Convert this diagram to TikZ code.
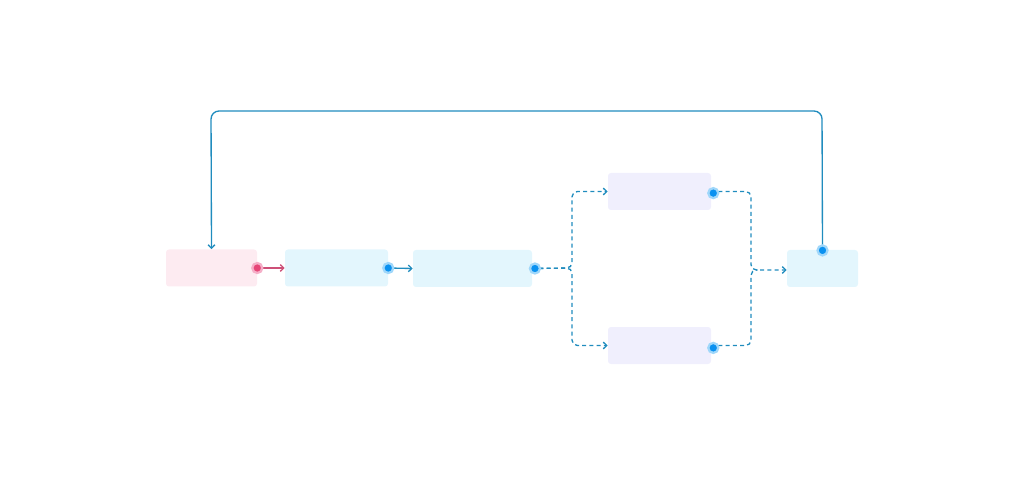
\documentclass[tikz,border=0pt]{standalone}
\usetikzlibrary{arrows.meta,positioning}

\definecolor{pinkfill}{RGB}{253,235,241}
\definecolor{bluefill}{RGB}{227,246,253}
\definecolor{lilacfill}{RGB}{240,239,253}
\definecolor{flowline}{RGB}{32,140,190}
\definecolor{pinkline}{RGB}{205,80,120}
\definecolor{dotblue}{RGB}{10,145,240}
\definecolor{haloblue}{RGB}{160,215,250}
\definecolor{dotpink}{RGB}{230,70,120}
\definecolor{halopink}{RGB}{245,175,200}

\tikzset{
	task/.style={rectangle, rounded corners=2.2pt, inner sep=0pt, minimum height=27.75pt},
	port/.style={circle, fill=dotblue, draw=haloblue, line width=1.7pt, minimum size=7.5pt, inner sep=0pt},
	pinkport/.style={port, fill=dotpink, draw=halopink},
	flow/.style={draw=flowline, line width=1pt, -{Straight Barb[length=2.6pt,width=5pt]}},
	branch/.style={flow, dash pattern=on 3pt off 2.4pt, rounded corners=4pt}
}

\begin{document}
\begin{tikzpicture}[x=0.75pt, y=-0.75pt]
		\useasboundingbox (0,0) rectangle (1024,477);

		\draw (211.5,268) node [task, fill=pinkfill, minimum width=68.25pt] (start) {};
		\draw (336.5,268) node [task, fill=bluefill, minimum width=77.25pt] (prep) {};
		\draw (472.5,268.5) node [task, fill=bluefill, minimum width=89.25pt] (fork) {};
		\draw (659.5,191.5) node [task, fill=lilacfill, minimum width=77.25pt] (upper) {};
		\draw (659.5,345.5) node [task, fill=lilacfill, minimum width=77.25pt] (lower) {};
		\draw (822.5,268.5) node [task, fill=bluefill, minimum width=53.25pt] (join) {};

		\coordinate (split) at (572,268);
		\coordinate (merge) at (751,270);
		\coordinate (loopr) at (822,111);
		\coordinate (loopl) at (211,111);

		\draw
			(start.east) edge [flow, draw=pinkline] (prep.west)
			(prep.east) edge [flow] (fork.west)
		;
		\draw [branch] (fork.east) -- (split) |- (upper.west);
		\draw [branch] (fork.east) -- (split) |- (lower.west);
		\draw [branch] (upper.east) -| (merge) -- (merge -| join.west);
		\draw [branch, -] (lower.east) -| (merge) -- ([xshift=5pt]merge);
		\draw [flow, rounded corners=6pt] (join.north) -- (loopr) -- (loopl) -- (start.north);

		\draw (start.east) node [pinkport] (startout) {};
		\draw (prep.east) node [port] (prepout) {};
		\draw ([xshift=2pt]fork.east) node [port] (forkout) {};
		\draw ([xshift=1.5pt,yshift=-1.2pt]upper.east) node [port] (upperout) {};
		\draw ([xshift=1.5pt,yshift=-1.8pt]lower.east) node [port] (lowerout) {};
		\draw ([yshift=-0.5pt]join.north) node [port] (joinin) {};
	\end{tikzpicture}
\end{document}
